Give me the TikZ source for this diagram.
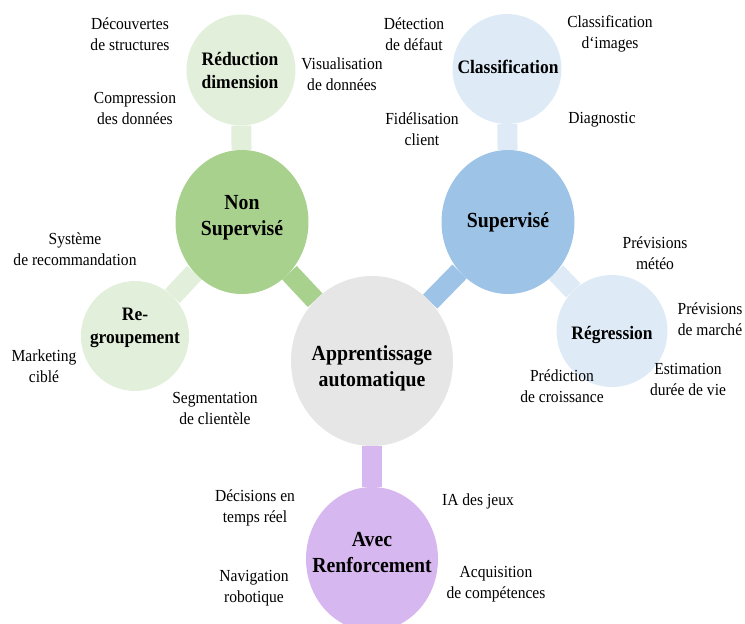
\documentclass[tikz,border=0pt]{standalone}
\usepackage{fontspec}
\setmainfont{Liberation Serif}[FakeStretch=0.92]
\usetikzlibrary{shapes.geometric,backgrounds}
\definecolor{vertclair}{HTML}{E2EFDA}
\definecolor{vert}{HTML}{A9D18E}
\definecolor{bleuclair}{HTML}{DEEBF7}
\definecolor{bleu}{HTML}{9DC3E6}
\definecolor{gris}{HTML}{E6E6E6}
\definecolor{violet}{HTML}{D7B7EF}
\begin{document}
\begin{tikzpicture}[x=1pt,y=-1pt,
	rond/.style={ellipse,draw=none,inner sep=0pt},
	titre/.style={align=center,font=\fontsize{19}{23}\selectfont\bfseries},
	grandtitre/.style={align=center,font=\fontsize{21.5}{26}\selectfont\bfseries},
	appli/.style={align=center,font=\fontsize{16.9}{21}\selectfont},
	tige/.style={line width=20pt}]
			\useasboundingbox (0,0) rectangle (745,624);
			% les bulles
			\node [rond,fill=vertclair,minimum width=109pt,minimum height=111pt] (reduc) at (241,70) {};
			\node [rond,fill=bleuclair,minimum width=109pt,minimum height=110pt] (classif) at (507,69) {};
			\node [rond,fill=vert,minimum width=133pt,minimum height=144pt] (nonsup) at (242,222) {};
			\node [rond,fill=bleu,minimum width=133pt,minimum height=144pt] (sup) at (508,222) {};
			\node [rond,fill=gris,minimum width=162pt,minimum height=170pt] (centre) at (372,361) {};
			\node [rond,fill=violet,minimum width=132pt,minimum height=144pt] (renfo) at (372,559) {};
			\node [rond,fill=bleuclair,minimum width=111pt,minimum height=112pt] (regr) at (612,331) {};
			\node [rond,fill=vertclair,minimum width=108pt,minimum height=110pt] (regroup) at (135,336) {};
			\begin{scope}[on background layer]
				\draw [tige,vertclair] (reduc) -- (nonsup);
				\draw [tige,bleuclair] (classif) -- (sup);
				\draw [tige,vert] (nonsup) -- (centre);
				\draw [tige,bleu] (sup) -- (centre);
				\draw [tige,vertclair] (nonsup) -- (regroup);
				\draw [tige,bleuclair] (sup) -- (regr);
				\draw [tige,violet] (centre) -- (renfo);
			\end{scope}
			% les titres
			\node [titre] (treduc) at (240,70) {Réduction\\dimension};
			\node [titre] (tclassif) at (508,67) {Classification};
			\node [grandtitre] (tnonsup) at (242,218) {Non\\Supervisé};
			\node [grandtitre] (tsup) at (508,222) {Supervisé};
			\node [titre] (tregroup) at (135,328) {Re-\\groupement};
			\node [titre] (tregr) at (612,335) {Régression};
			\node [grandtitre] (tcentre) at (372,368) {Apprentissage\\automatique};
			\node [grandtitre] (trenfo) at (372,553) {Avec\\Renforcement};
			% les applications
			\node [appli] (decouv) at (130,34) {Découvertes\\de structures};
			\node [appli] (compr) at (135,108) {Compression\\des données};
			\node [appli] (visu) at (342,74) {Visualisation\\de données};
			\node [appli] (detect) at (414,34) {Détection\\de défaut};
			\node [appli] (fidel) at (422,129) {Fidélisation\\client};
			\node [appli] (classimg) at (610,34) {Classification\\d‘images};
			\node [appli] (diagn) at (602,120) {Diagnostic};
			\node [appli] (systeme) at (75,249) {Système\\de recommandation};
			\node [appli] (marketing) at (44,366) {Marketing\\ciblé};
			\node [appli] (segment) at (215,408) {Segmentation\\de clientèle};
			\node [appli] (prevmeteo) at (655,253) {Prévisions\\météo};
			\node [appli] (prevmarche) at (710,319) {Prévisions\\de marché};
			\node [appli] (predict) at (562,386) {Prédiction\\de croissance};
			\node [appli] (estim) at (688,379) {Estimation\\durée de vie};
			\node [appli] (decis) at (255,508) {Décisions en\\temps réel};
			\node [appli] (iajeux) at (478,501) {IA des jeux};
			\node [appli] (navig) at (254,588) {Navigation\\robotique};
			\node [appli] (acquis) at (496,584) {Acquisition\\de compétences};
\end{tikzpicture}
\end{document}
